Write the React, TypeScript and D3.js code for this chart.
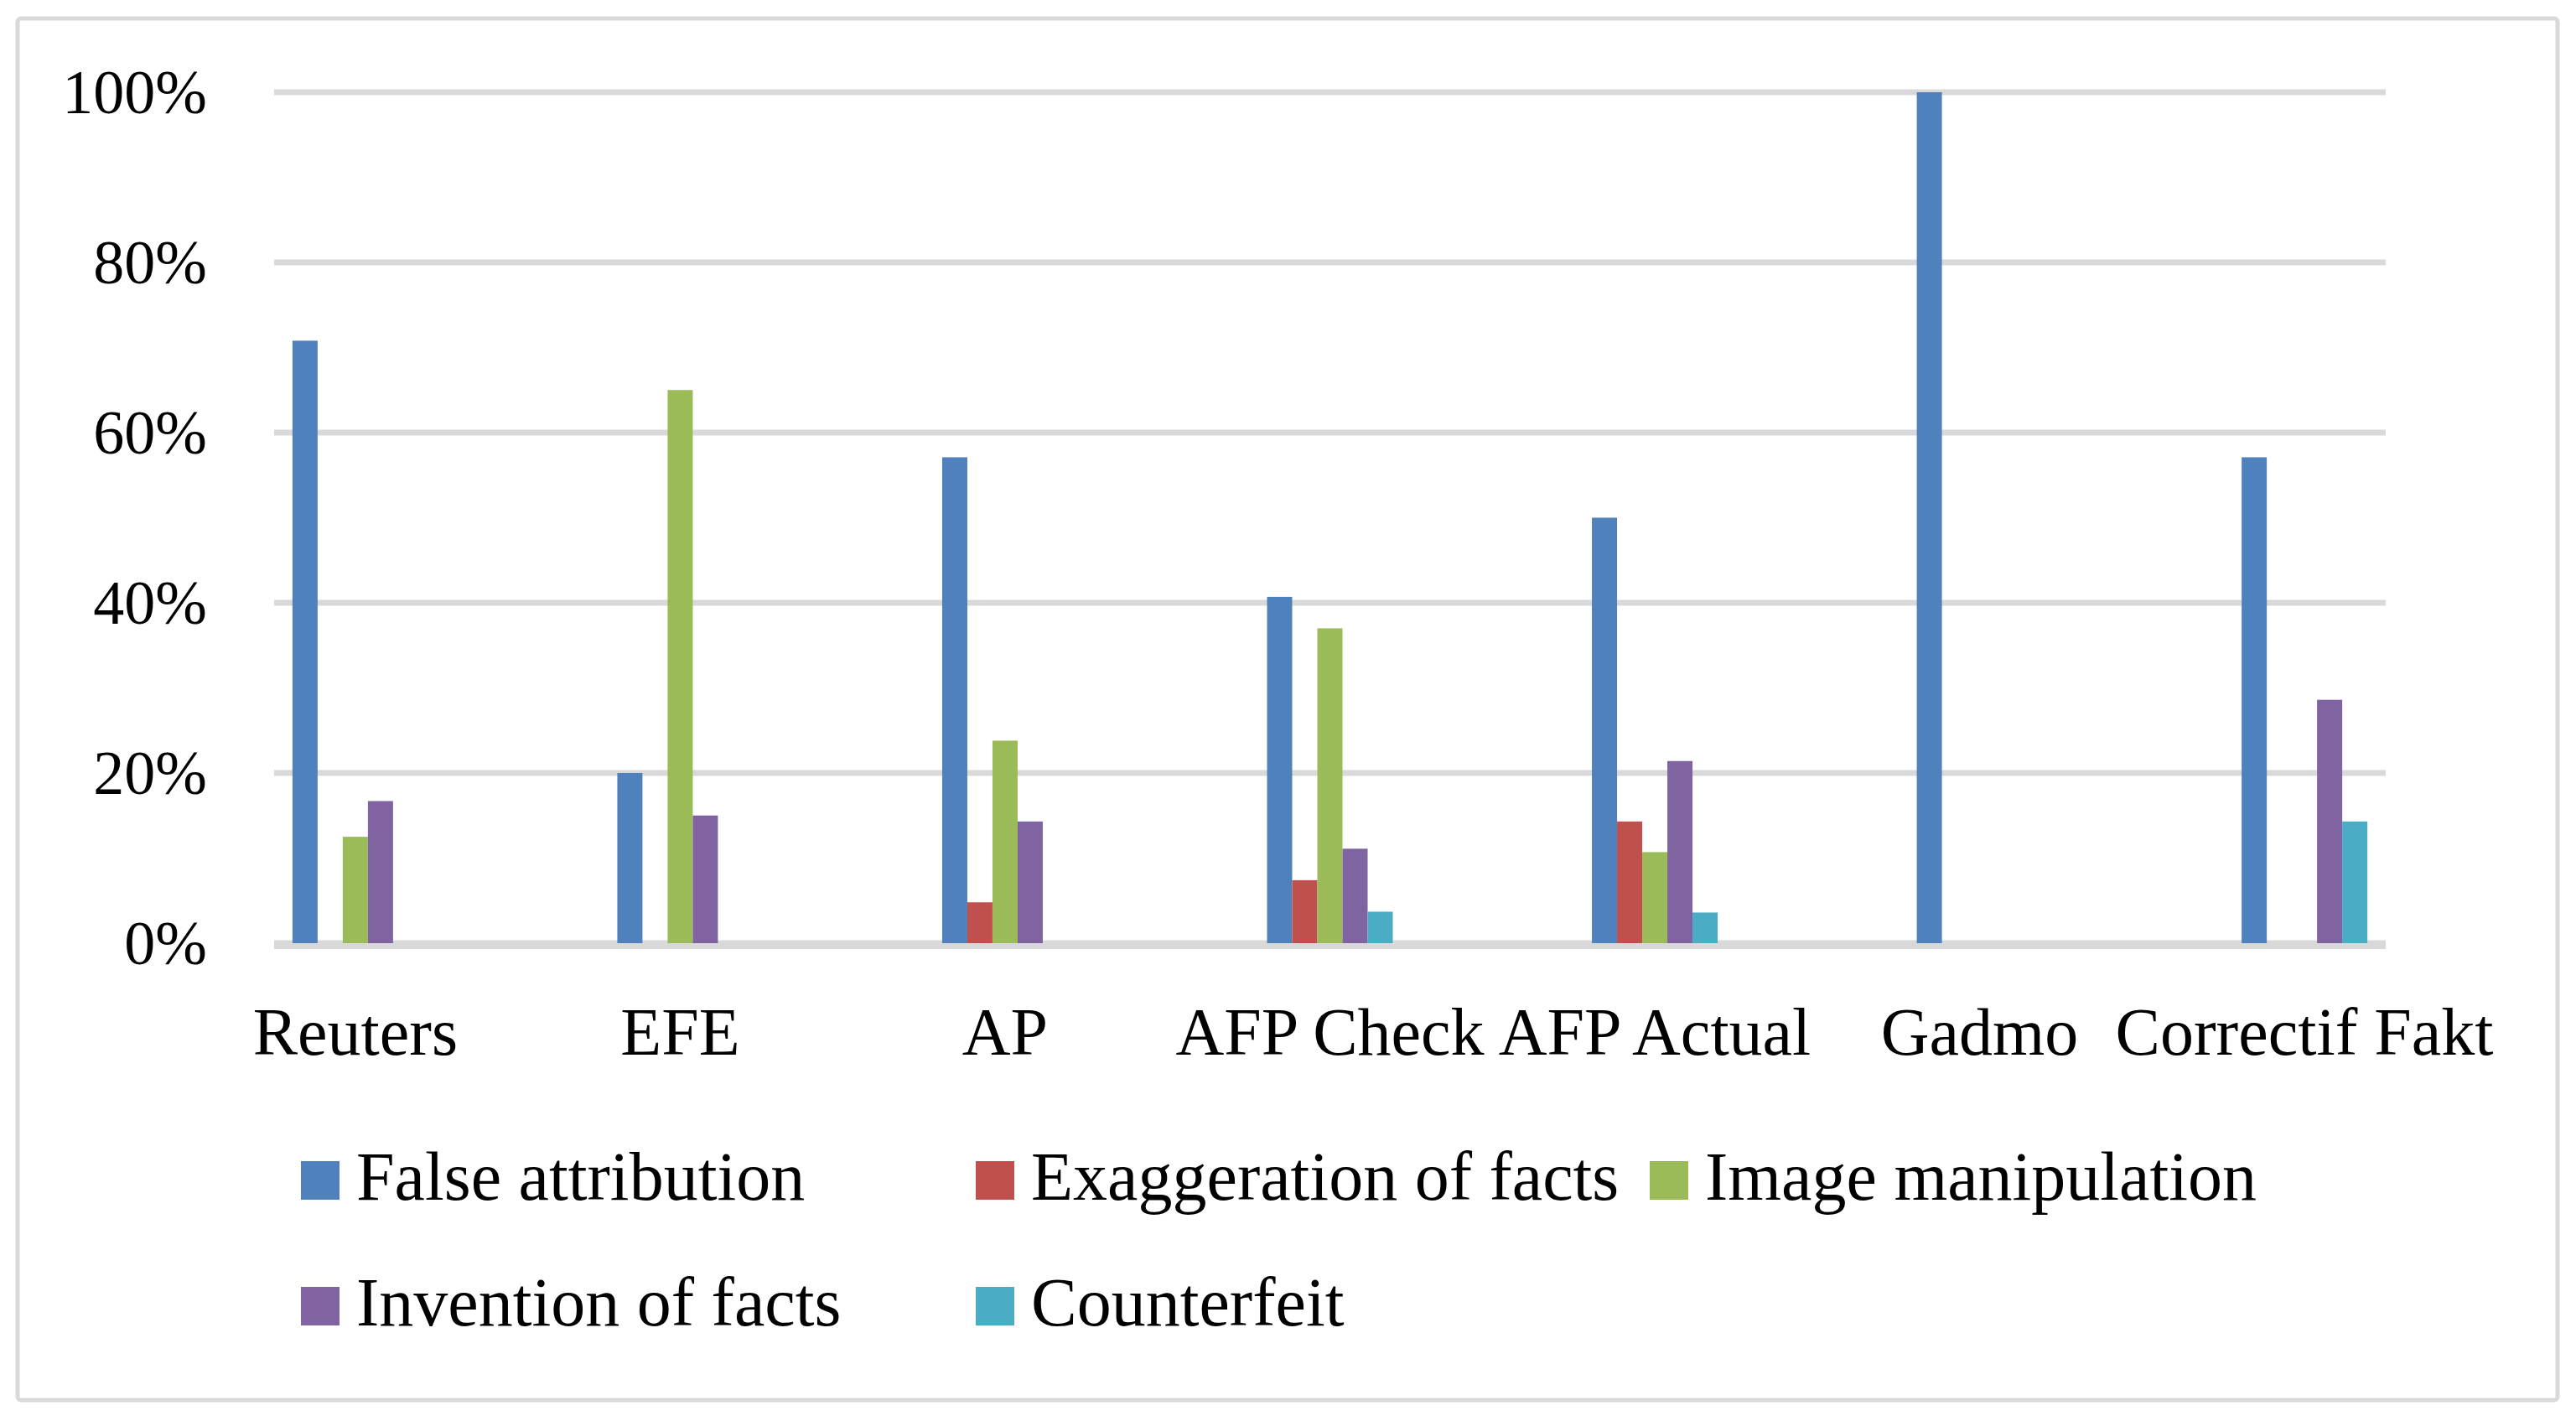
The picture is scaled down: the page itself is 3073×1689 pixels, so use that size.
import React, { useEffect, useRef } from "react";
import * as d3 from "d3";

const categories = [
  "Reuters",
  "EFE",
  "AP",
  "AFP Check",
  "AFP Actual",
  "Gadmo",
  "Correctif Fakt",
];

const seriesNames = [
  "False attribution",
  "Exaggeration of facts",
  "Image manipulation",
  "Invention of facts",
  "Counterfeit",
];

const seriesColors = ["#4f81bd", "#c0504d", "#9bbb59", "#8064a2", "#4bacc6"];

// percentages per category
const falseAttribution = [70.8, 20, 57.1, 40.7, 50, 100, 57.1];
const exaggerationOfFacts = [0, 0, 4.8, 7.4, 14.3, 0, 0];
const imageManipulation = [12.5, 65, 23.8, 37.0, 10.7, 0, 0];
const inventionOfFacts = [16.7, 15, 14.3, 11.1, 21.4, 0, 28.6];
const counterfeit = [0, 0, 0, 3.7, 3.6, 0, 14.3];

const yTicks = [0, 20, 40, 60, 80, 100];

const seriesValues = [
  falseAttribution,
  exaggerationOfFacts,
  imageManipulation,
  inventionOfFacts,
  counterfeit,
];

const App: React.FC = () => {
  const svgRef = useRef<SVGSVGElement | null>(null);

  useEffect(() => {
    if (!svgRef.current) return;
    const svg = d3.select(svgRef.current);
    svg.selectAll("*").remove();

    const plot = { left: 327, right: 2846, top: 110, bottom: 1125 };
    const font = "'Liberation Serif', 'Times New Roman', serif";

    // chart border
    svg
      .append("rect")
      .attr("x", 21)
      .attr("y", 22)
      .attr("width", 3030)
      .attr("height", 1648)
      .attr("rx", 4)
      .attr("fill", "#fff")
      .attr("stroke", "#d9d9d9")
      .attr("stroke-width", 5);

    const x = d3
      .scalePoint<string>()
      .domain(categories)
      .range([plot.left, plot.right])
      .padding(0.25);

    const inner = d3
      .scaleBand<string>()
      .domain(seriesNames)
      .range([-75, 75])
      .padding(0);

    const y = d3
      .scaleLinear()
      .domain([0, 100])
      .range([plot.bottom, plot.top]);

    // gridlines
    svg
      .append("g")
      .selectAll("line")
      .data(yTicks)
      .enter()
      .append("line")
      .attr("x1", plot.left)
      .attr("x2", plot.right)
      .attr("y1", (d) => y(d))
      .attr("y2", (d) => y(d))
      .attr("stroke", "#d9d9d9")
      .attr("stroke-width", 7);

    // y tick labels
    svg
      .append("g")
      .selectAll("text")
      .data(yTicks)
      .enter()
      .append("text")
      .attr("x", 247)
      .attr("y", (d) => y(d))
      .attr("dy", "0.34em")
      .attr("text-anchor", "end")
      .attr("font-family", font)
      .attr("font-size", 74)
      .attr("fill", "#000")
      .text((d) => `${d}%`);

    // bars
    seriesNames.forEach((name, si) => {
      svg
        .append("g")
        .selectAll("rect")
        .data(seriesValues[si].map((v, i) => ({ cat: categories[i], v })))
        .enter()
        .filter((d) => d.v > 0)
        .append("rect")
        .attr("x", (d) => x(d.cat)! + inner(name)!)
        .attr("y", (d) => y(d.v))
        .attr("width", inner.bandwidth())
        .attr("height", (d) => y(0) - y(d.v))
        .attr("fill", seriesColors[si]);
    });

    // zero line over the bar feet
    svg
      .append("line")
      .attr("x1", plot.left)
      .attr("x2", plot.right)
      .attr("y1", y(0) + 3.5)
      .attr("y2", y(0) + 3.5)
      .attr("stroke", "#d9d9d9")
      .attr("stroke-width", 7);

    // category labels
    svg
      .append("g")
      .selectAll("text")
      .data(categories)
      .enter()
      .append("text")
      .attr("x", (d) => x(d)!)
      .attr("y", 1258)
      .attr("text-anchor", "middle")
      .attr("font-family", font)
      .attr("font-size", 80)
      .attr("fill", "#000")
      .text((d) => d);

    // legend
    const legendCols = [359, 1164, 1968];
    const legendRows = [1385, 1535];
    const legend = svg
      .append("g")
      .selectAll("g")
      .data(seriesNames)
      .enter()
      .append("g")
      .attr(
        "transform",
        (_, i) =>
          `translate(${legendCols[i % 3]}, ${legendRows[Math.floor(i / 3)]})`
      );

    legend
      .append("rect")
      .attr("width", 46)
      .attr("height", 46)
      .attr("fill", (_, i) => seriesColors[i]);

    legend
      .append("text")
      .attr("x", 66)
      .attr("y", 46)
      .attr("font-family", font)
      .attr("font-size", 82)
      .attr("fill", "#000")
      .text((d) => d);
  }, []);

  return (
    <svg
      ref={svgRef}
      width={3073}
      height={1689}
      style={{ position: "absolute", left: 0, top: 0, background: "#fff" }}
    ></svg>
  );
};

export default App;
